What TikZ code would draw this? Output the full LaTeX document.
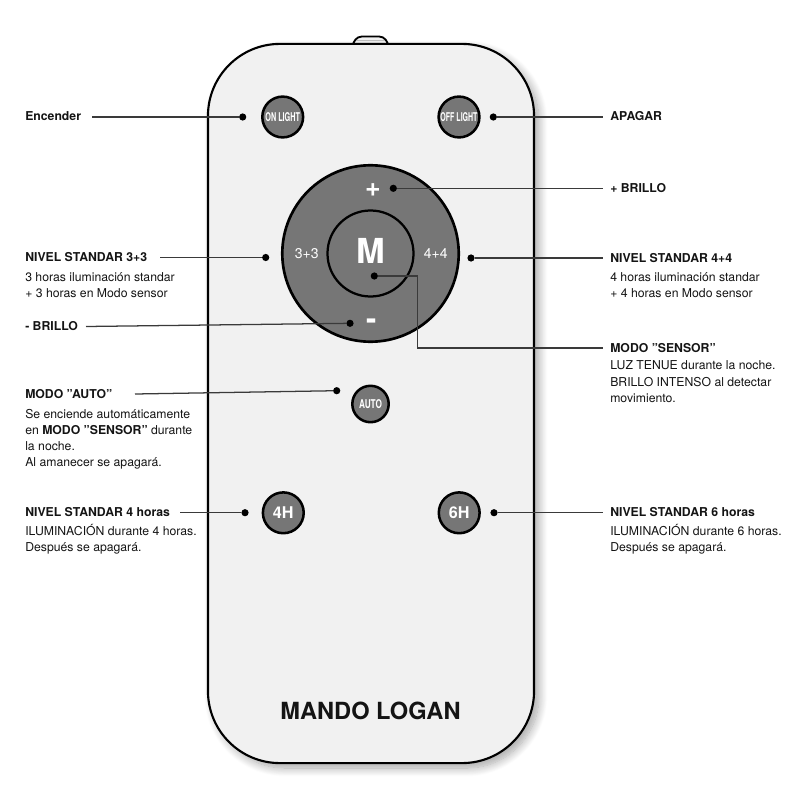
\documentclass[tikz,border=0pt]{standalone}
\usepackage{fontspec}
\setmainfont{TeX Gyre Heros}
\usepackage{graphicx}
\usetikzlibrary{shadows.blur}
\definecolor{bodyfill}{HTML}{F1F1F1}
\definecolor{btngray}{HTML}{767676}
\definecolor{wire}{HTML}{3A3A3A}
\definecolor{ink}{HTML}{141414}
\begin{document}
\begin{tikzpicture}[x=0.025cm,y=-0.025cm,
  remote/.style={rectangle, draw=black, line width=1.5pt, fill=bodyfill, rounded corners=1.8cm,
    minimum width=8.15cm, minimum height=17.975cm, inner sep=0,
    blur shadow={shadow xshift=3.5pt, shadow yshift=-3.5pt, shadow blur radius=6pt, shadow blur steps=12, shadow opacity=35}},
  btn/.style={circle, draw=black, line width=1.8pt, fill=btngray, text=white, inner sep=0, minimum size=1.02cm},
  dotn/.style={circle, fill=black, inner sep=0, minimum size=0.18cm},
  wirel/.style={draw=wire, line width=0.9pt},
  ttl/.style={font=\bfseries\fontsize{8.7}{11.5}\selectfont, text=ink, anchor=base west, inner sep=0},
  desc/.style={font=\fontsize{8.7}{11.5}\selectfont, text=ink, anchor=base west, inner sep=0, align=left},
  btnfont/.style={font=\bfseries\fontsize{8.6}{9}\selectfont},
  ringlbl/.style={text=white, inner sep=0, font=\fontsize{10}{12}\selectfont},
  ]
\useasboundingbox (0,0) rectangle (800,800);

% top tab
\draw[fill=bodyfill, line width=1.3pt] (352.5,47) to[out=85,in=180] (362,36.5) -- (379,36.5) to[out=0,in=95] (388.5,47);
% remote body
\node[remote] (body) at (371,403.5) {};
\node[font=\bfseries\fontsize{16.8}{20}\selectfont, text=ink] (title) at (370.5,710.5) {MANDO LOGAN};

% central wheel
\node[circle, draw=black, line width=1.9pt, fill=btngray, minimum size=4.41cm, inner sep=0] (ring) at (370.5,253.5) {};
\node[circle, draw=black, line width=1.6pt, fill=btngray, minimum size=2.15cm, inner sep=0] (hub) at (370.5,253.5) {};
\node[text=white, inner sep=0, font=\bfseries\fontsize{24.5}{26}\selectfont] (mlab) at (370.5,250.8) {M};
\node[ringlbl] (l33) at (306.7,253.3) {3+3};
\node[ringlbl] (l44) at (435.8,253.3) {4+4};
\node[text=white, inner sep=0, font=\bfseries\fontsize{19}{20}\selectfont] (plus) at (373,189.7) {+};
\node[text=white, inner sep=0, anchor=base, font=\bfseries\fontsize{22}{24}\selectfont] (minus) at (371.3,329) {-};

% buttons
\node[btn, btnfont] (on) at (282.7,117) {\scalebox{0.6}[1]{ON LIGHT}};
\node[btn, btnfont] (off) at (459,117) {\scalebox{0.58}[1]{OFF LIGHT}};
\node[btn, btnfont, minimum size=0.91cm] (auto) at (370.5,404) {\scalebox{0.68}[1]{AUTO}};
\node[btn, font=\bfseries\fontsize{11.5}{12}\selectfont] (b4h) at (283.3,512.8) {4H};
\node[btn, font=\bfseries\fontsize{11.5}{12}\selectfont] (b6h) at (459.2,512.8) {6H};

% dots
\node[dotn] (dEnc) at (242.7,117) {};
\node[dotn] (dOff) at (493.3,117) {};
\node[dotn] (dPlus) at (393.3,188.3) {};
\node[dotn] (d33) at (265.7,257.5) {};
\node[dotn] (d44) at (471,258) {};
\node[dotn] (dMin) at (350,323.3) {};
\node[dotn] (dSen) at (374.3,276) {};
\node[dotn] (dAuto) at (336.7,390.7) {};
\node[dotn] (d4h) at (245,512.7) {};
\node[dotn] (d6h) at (494,512.7) {};

% wire ends
\coordinate (cEnc) at (92,117);
\coordinate (cOff) at (603,117);
\coordinate (cPlus) at (603,188.3);
\coordinate (c33) at (160,257.5);
\coordinate (c44) at (603,258);
\coordinate (cMin) at (86,326.5);
\coordinate (kSen) at (417.5,348);
\coordinate (cSen) at (603,348);
\coordinate (cAuto) at (135,394);
\coordinate (c4h) at (180,512.7);
\coordinate (c6h) at (603,512.7);

% wires
\draw[wirel] (cEnc) -- (dEnc);
\draw[wirel] (dOff) -- (cOff);
\draw[wirel] (dPlus) -- (cPlus);
\draw[wirel] (c33) -- (d33);
\draw[wirel] (d44) -- (c44);
\draw[wirel] (cMin) -- (dMin);
\draw[wirel] (dSen) -| (kSen) -- (cSen);
\draw[wirel] (cAuto) -- (dAuto);
\draw[wirel] (c4h) -- (d4h);
\draw[wirel] (d6h) -- (c6h);

% labels (multi-line nodes: base = baseline of last line)
\node[ttl] (tEnc) at (25,121) {Encender};
\node[ttl] (tApa) at (610,121) {APAGAR};
\node[ttl] (tBri) at (610,192.5) {+ BRILLO};
\node[ttl] (t33) at (25,261.5) {NIVEL STANDAR 3+3};
\node[desc] (x33) at (25,297.2) {3 horas iluminación standar\\+ 3 horas en Modo sensor};
\node[ttl] (t44) at (610,262) {NIVEL STANDAR 4+4};
\node[desc] (x44) at (610,297.2) {4 horas iluminación standar\\+ 4 horas en Modo sensor};
\node[ttl] (tMin) at (25,330) {- BRILLO};
\node[ttl] (tSen) at (610,352) {MODO "SENSOR"};
\node[desc] (xSen) at (610,402.3) {LUZ TENUE durante la noche.\\BRILLO INTENSO al detectar\\movimiento.};
\node[ttl] (tAuto) at (25,398.5) {MODO "AUTO"};
\node[desc] (xAuto) at (25,466.8) {Se enciende automáticamente\\en \textbf{MODO "SENSOR"} durante\\la noche.\\Al amanecer se apagará.};
\node[ttl] (t4h) at (25,516) {NIVEL STANDAR 4 horas};
\node[desc] (x4h) at (25,551.2) {ILUMINACIÓN durante 4 horas.\\Después se apagará.};
\node[ttl] (t6h) at (610,516) {NIVEL STANDAR 6 horas};
\node[desc] (x6h) at (610,551.2) {ILUMINACIÓN durante 6 horas.\\Después se apagará.};
\end{tikzpicture}
\end{document}
